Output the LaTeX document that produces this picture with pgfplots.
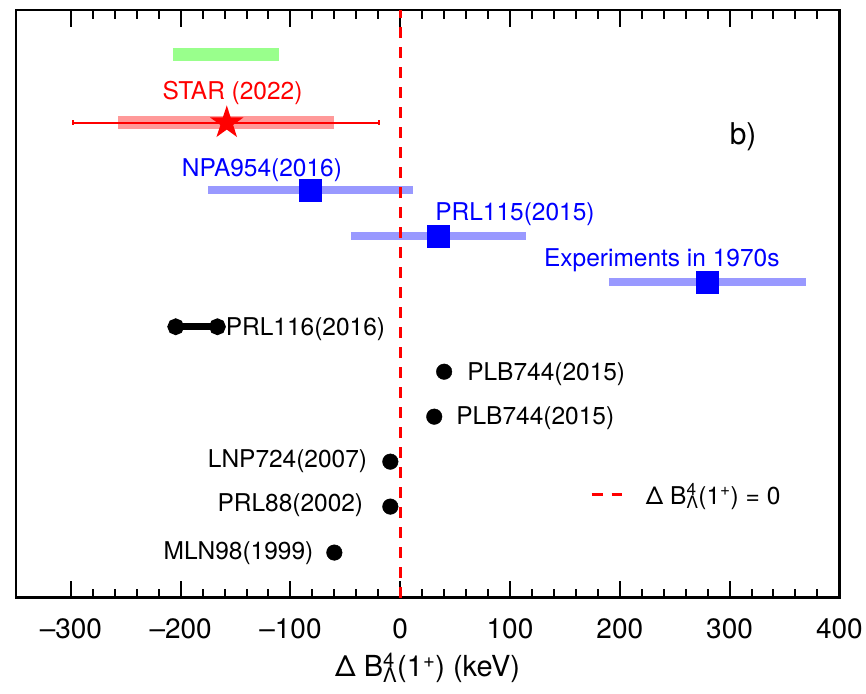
\documentclass[border=0pt]{standalone}
\usepackage{fontspec}
\setmainfont{TeX Gyre Heros}
\usepackage{pgfplots}
\pgfplotsset{compat=1.18}
\definecolor{bandblue}{RGB}{153,153,255}
\definecolor{bandred}{RGB}{255,153,153}
\definecolor{bandgreen}{RGB}{153,255,140}
\pgfdeclareplotmark{fstar}{%
  \pgfpathmoveto{\pgfqpoint{0pt}{\pgfplotmarksize}}%
  \pgfpathlineto{\pgfqpoint{0.2245\pgfplotmarksize}{0.309\pgfplotmarksize}}%
  \pgfpathlineto{\pgfqpoint{0.951\pgfplotmarksize}{0.309\pgfplotmarksize}}%
  \pgfpathlineto{\pgfqpoint{0.363\pgfplotmarksize}{-0.118\pgfplotmarksize}}%
  \pgfpathlineto{\pgfqpoint{0.588\pgfplotmarksize}{-0.809\pgfplotmarksize}}%
  \pgfpathlineto{\pgfqpoint{0pt}{-0.382\pgfplotmarksize}}%
  \pgfpathlineto{\pgfqpoint{-0.588\pgfplotmarksize}{-0.809\pgfplotmarksize}}%
  \pgfpathlineto{\pgfqpoint{-0.363\pgfplotmarksize}{-0.118\pgfplotmarksize}}%
  \pgfpathlineto{\pgfqpoint{-0.951\pgfplotmarksize}{0.309\pgfplotmarksize}}%
  \pgfpathlineto{\pgfqpoint{-0.2245\pgfplotmarksize}{0.309\pgfplotmarksize}}%
  \pgfpathclose
  \pgfusepathqfill
}
\newcommand{\lab}{\fontsize{24.5bp}{29bp}\selectfont}
\newcommand{\bigfnt}{\fontsize{28bp}{32bp}\selectfont}
\newcommand{\xlfnt}{\fontsize{29bp}{33bp}\selectfont}
\begin{document}
\begin{tikzpicture}
\begin{axis}[
  scale only axis, width=824bp, height=588bp,
  xmin=-350, xmax=400, ymin=0, ymax=588,
  clip=false,
  axis line style={line width=2.5bp, black},
  xtick={-300,-200,...,400},
  xticklabels={--300,--200,--100,0,100,200,300,400},
  minor x tick num=4,
  ytick=\empty,
  tick align=inside,
  major tick length=17bp, minor tick length=9bp,
  tick style={black, line width=2bp},
  tick label style={font=\bigfnt},
  xticklabel style={yshift=-18bp},
  xlabel={Δ B\rlap{\textsuperscript{4}}\textsubscript{Λ}(1\textsuperscript{+}) (keV)},
  xlabel style={font=\xlfnt, at={(axis description cs:0.5,0)}, anchor=base, yshift=-79bp},
  legend style={draw=none, fill=none, at={(axis cs:172.7,103)}, anchor=west,
    inner sep=0pt, column sep=17bp, font=\lab, cells={anchor=west}},
  legend image code/.code={\draw[#1] (0bp,0bp) -- (34bp,0bp);},
]
% bands
\addplot[bandgreen, line width=13bp, forget plot] coordinates {(-207,543) (-110,543)};
\addplot[bandred, line width=13bp, forget plot] coordinates {(-257,475) (-60,475)};
\addplot[bandblue, line width=8bp, forget plot] coordinates {(-175,408) (12,408)};
\addplot[bandblue, line width=8bp, forget plot] coordinates {(-45,362) (115,362)};
\addplot[bandblue, line width=8bp, forget plot] coordinates {(190,316) (370,316)};
% zero line
\addplot[red, dash pattern=on 11bp off 9bp, line width=3bp] coordinates {(0,0) (0,588)};
\addlegendentry{Δ B\rlap{\textsuperscript{4}}\textsubscript{Λ}(1\textsuperscript{+}) = 0}
% STAR error bar and star
\addplot[red, line width=2bp, mark=|, mark size=2.5bp, forget plot] coordinates {(-298.5,475) (-19,475)};
\addplot[red, only marks, mark=fstar, mark size=17.5bp, forget plot] coordinates {(-158,475)};
% squares
\addplot[blue, only marks, mark=square*, mark size=11bp, forget plot] coordinates {(-82,408) (34.5,362) (280,316)};
% PRL116
\addplot[black, line width=6.5bp, mark=*, mark size=5bp, forget plot] coordinates {(-204.5,271) (-166.5,271)};
% dots
\addplot[black, only marks, mark=*, mark size=7.8bp, forget plot] coordinates {(40,226) (31,181) (-9,136) (-9,91) (-60,45)};
% labels
\node[anchor=base, text=red, font=\lab] at (axis cs:-152.7,498.5) {STAR (2022)};
\node[anchor=base west, text=blue, font=\lab, inner sep=0pt] at (axis cs:-199,421.3) {NPA954(2016)};
\node[anchor=base west, text=blue, font=\lab, inner sep=0pt] at (axis cs:31.8,377.3) {PRL115(2015)};
\node[anchor=base west, text=blue, font=\lab, inner sep=0pt] at (axis cs:130.9,331.3) {Experiments in 1970s};
\node[anchor=base west, font=\fontsize{30bp}{34bp}\selectfont, inner sep=0pt] at (axis cs:300,453) {b)};
\node[anchor=base west, font=\lab, inner sep=0pt] at (axis cs:-159,262) {PRL116(2016)};
\node[anchor=base west, font=\lab, inner sep=0pt] at (axis cs:60.9,217) {PLB744(2015)};
\node[anchor=base west, font=\lab, inner sep=0pt] at (axis cs:50.9,173) {PLB744(2015)};
\node[anchor=base east, font=\lab, inner sep=0pt] at (axis cs:-30,129.7) {LNP724(2007)};
\node[anchor=base east, font=\lab, inner sep=0pt] at (axis cs:-33.6,85.7) {PRL88(2002)};
\node[anchor=base east, font=\lab, inner sep=0pt] at (axis cs:-79,38) {MLN98(1999)};
\coordinate (ll) at (rel axis cs:0,0);
\coordinate (ur) at (rel axis cs:1,1);
\end{axis}
\path ([shift={(-16bp,-96bp)}]ll) rectangle ([shift={(26bp,10bp)}]ur);
\end{tikzpicture}
\end{document}
